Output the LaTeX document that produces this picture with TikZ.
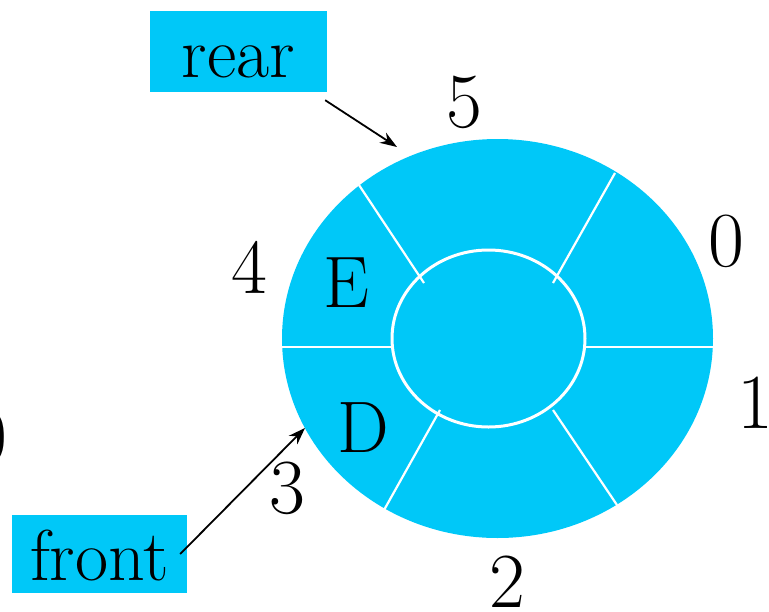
\documentclass[tikz,border=0pt]{standalone}
\usepackage{fontspec}
\usetikzlibrary{arrows.meta}
\definecolor{qcyan}{RGB}{0,200,248}
\begin{document}
\begin{tikzpicture}[x=1pt,y=-1pt,
  digit/.style={font=\fontsize{78}{80}\selectfont, inner sep=0pt},
  letter/.style={font=\fontsize{73}{76}\selectfont, inner sep=0pt},
  spoke/.style={draw=white, line width=2.2pt},
  pointer/.style={-{Stealth[length=17pt,width=12pt]}, line width=1.8pt, black},
  tag/.style={fill=qcyan, inner sep=0pt, font=\fontsize{72}{75}\selectfont, align=center}]
\useasboundingbox (0,0) rectangle (769,611);
% ring
\coordinate (c) at (497.5,338.5);
\coordinate (ic) at (488.5,338.5);
\fill[qcyan] (c) ellipse [x radius=215.5, y radius=199.5];
\draw[spoke, line width=3pt] (ic) ellipse [x radius=96.5, y radius=88.5];
% spokes
\draw[spoke] (359,185) -- (424,283);
\draw[spoke] (615,173) -- (553,283);
\draw[spoke] (282,347) -- (392,347);
\draw[spoke] (585,347) -- (713,347);
\draw[spoke] (440,410) -- (379,519);
\draw[spoke] (553,410) -- (617,505);
% slot contents
\node[letter] (E) at (346,283) {E};
\node[letter] (D) at (363,428) {D};
% indices
\node[digit] (n5) at (464,102) {5};
\node[digit] (n0) at (726,241) {0};
\node[digit] (n4) at (249,267) {4};
\node[digit] (n1) at (755,403) {1};
\node[digit] (n3) at (287,488) {3};
\node[digit] (n2) at (507,582) {2};
\node[digit, anchor=east] (cut) at (8,437) {0};
% pointers
\node[tag, minimum width=177pt, text height=66pt, text depth=15pt] (rear) at (238.5,51.5) {rear};
\node[tag, minimum width=175pt, text height=65pt, text depth=13pt] (front) at (99.5,554) {front};
\coordinate (rearTip) at (397,147);
\coordinate (frontTip) at (305,428);
\draw[pointer] ([shift={(-2,8)}]rear.south east) -- (rearTip);
\draw[pointer] ([xshift=-7pt]front.east) -- (frontTip);
\end{tikzpicture}
\end{document}
